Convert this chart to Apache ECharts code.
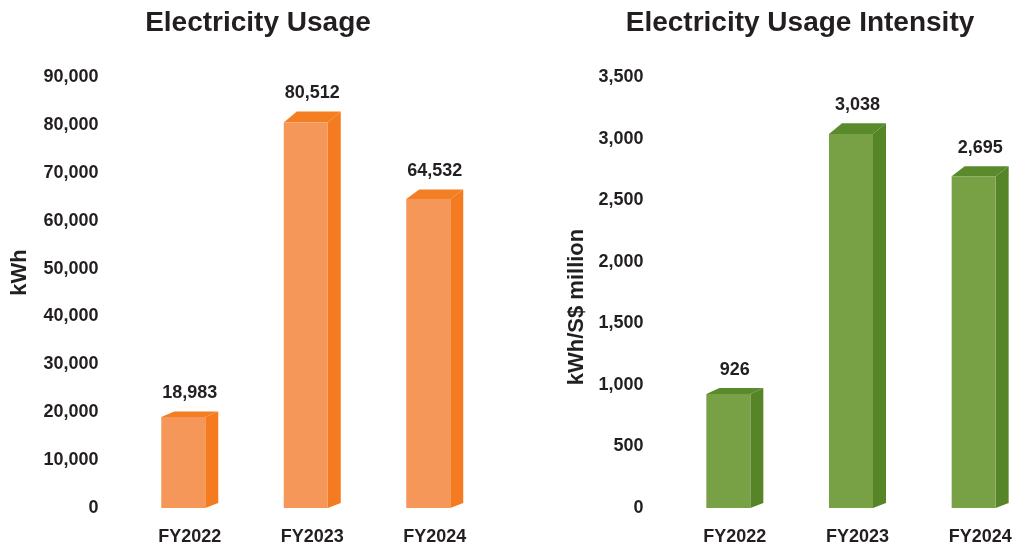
<!DOCTYPE html>
<html>
<head>
<meta charset="utf-8">
<script src="https://cdn.jsdelivr.net/npm/echarts@6/dist/echarts.min.js"></script>
<style>
  html, body { margin: 0; padding: 0; background: #fff; }
  #chart { width: 1014px; height: 546px; }
</style>
</head>
<body>
<div id="chart"></div>
<script>
// categories and values
const years = ['FY2022', 'FY2023', 'FY2024'];
const usageKwh = [18983, 80512, 64532];
const intensity = [926, 3038, 2695];

const FONT = '"Liberation Sans", Arial, Helvetica, sans-serif';
const INK = '#231F20';

// 3D look: front face, side face, top face
const makeBar3d = (front, side, top) => (params, api) => {
  const cat = api.value(0);
  const val = api.value(1);
  const p = api.coord([cat, val]);
  const base = api.coord([cat, 0]);
  const dx = 13;
  const fw = 44;
  const x1 = p[0] - 28.5;
  const x2 = x1 + fw;
  const topY = p[1];
  const baseY = base[1];
  const dyTop = 4 + 0.018 * (baseY - topY);
  const dyBase = 5;
  return {
    type: 'group',
    children: [
      {
        type: 'polygon',
        shape: { points: [[x2, topY], [x2 + dx, topY - dyTop], [x2 + dx, baseY - dyBase], [x2, baseY]] },
        style: { fill: side }
      },
      {
        type: 'polygon',
        shape: { points: [[x1, topY], [x2, topY], [x2 + dx, topY - dyTop], [x1 + dx, topY - dyTop]] },
        style: { fill: top }
      },
      {
        type: 'rect',
        shape: { x: x1, y: topY, width: fw, height: baseY - topY },
        style: { fill: front }
      },
      {
        type: 'text',
        x: p[0],
        y: topY - dyTop - 9,
        style: {
          text: echarts.format.addCommas(val),
          align: 'center',
          verticalAlign: 'bottom',
          fill: INK,
          font: 'bold 18px ' + FONT
        }
      }
    ]
  };
};

const axisLabelStyle = {
  color: INK,
  fontSize: 18,
  fontWeight: 'bold',
  fontFamily: FONT,
  margin: 30
};

const titleStyle = { color: INK, fontSize: 28, fontWeight: 'bold', fontFamily: FONT };

const option = {
  backgroundColor: '#fff',
  animation: false,
  title: [
    { text: 'Electricity Usage', left: 253, top: 4, textAlign: 'center', textStyle: titleStyle },
    { text: 'Electricity Usage Intensity', left: 795, top: 4, textAlign: 'center', textStyle: titleStyle }
  ],
  grid: [
    { left: 128.5, top: 77, width: 367.5, height: 431, outerBoundsMode: 'none' },
    { left: 673.5, top: 77, width: 368, height: 431, outerBoundsMode: 'none' }
  ],
  xAxis: [
    {
      type: 'category', gridIndex: 0, data: years,
      axisLine: { show: false }, axisTick: { show: false },
      axisLabel: { color: INK, fontSize: 18, fontWeight: 'bold', fontFamily: FONT, margin: 20 }
    },
    {
      type: 'category', gridIndex: 1, data: years,
      axisLine: { show: false }, axisTick: { show: false },
      axisLabel: { color: INK, fontSize: 18, fontWeight: 'bold', fontFamily: FONT, margin: 20 }
    }
  ],
  yAxis: [
    {
      type: 'value', gridIndex: 0, min: 0, max: 90000, interval: 10000,
      name: 'kWh', nameLocation: 'middle', nameGap: 98, nameRotate: 90,
      nameTextStyle: { color: INK, fontSize: 22, fontWeight: 'bold', fontFamily: FONT, padding: [0, 0, 0, 40] },
      axisLine: { show: false }, axisTick: { show: false }, splitLine: { show: false },
      axisLabel: Object.assign({ formatter: v => echarts.format.addCommas(v) }, axisLabelStyle)
    },
    {
      type: 'value', gridIndex: 1, min: 0, max: 3500, interval: 500,
      name: 'kWh/S$ million', nameLocation: 'middle', nameGap: 86, nameRotate: 90,
      nameTextStyle: { color: INK, fontSize: 22, fontWeight: 'bold', fontFamily: FONT, padding: [0, 29, 0, 0] },
      axisLine: { show: false }, axisTick: { show: false }, splitLine: { show: false },
      axisLabel: Object.assign({ formatter: v => echarts.format.addCommas(v) }, axisLabelStyle)
    }
  ],
  series: [
    {
      type: 'custom', xAxisIndex: 0, yAxisIndex: 0,
      renderItem: makeBar3d('#F6975A', '#F47B20', '#F47E22'),
      encode: { x: 0, y: 1 },
      data: years.map((y, i) => [i, usageKwh[i]])
    },
    {
      type: 'custom', xAxisIndex: 1, yAxisIndex: 1,
      renderItem: makeBar3d('#78A146', '#568527', '#5B8A2D'),
      encode: { x: 0, y: 1 },
      data: years.map((y, i) => [i, intensity[i]])
    }
  ]
};

const chart = echarts.init(document.getElementById('chart'));
chart.setOption(option);
</script>
</body>
</html>
